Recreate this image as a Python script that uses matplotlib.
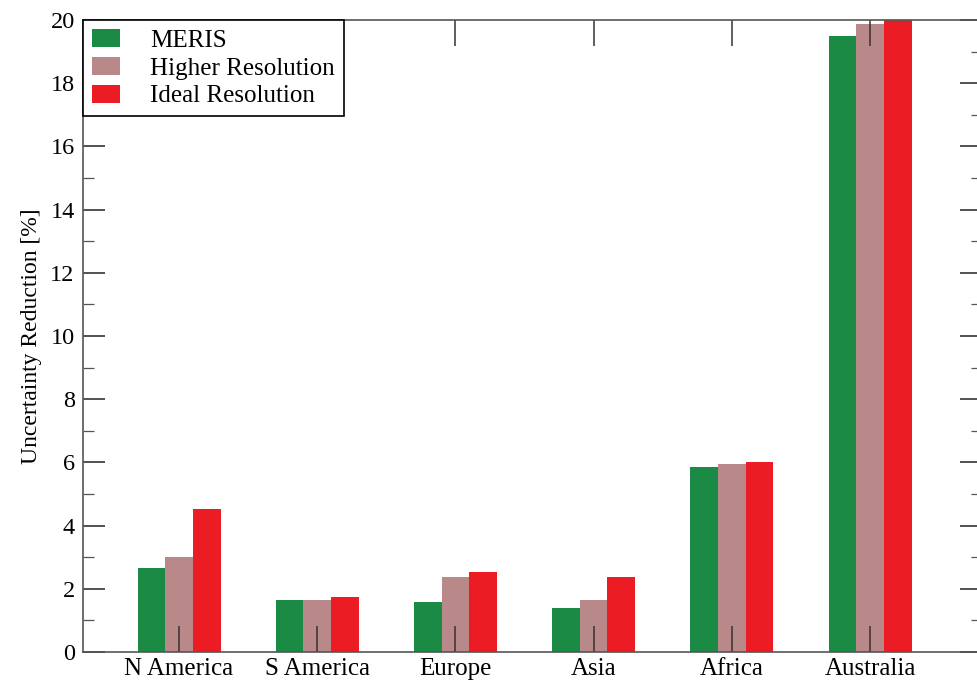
import matplotlib
matplotlib.use("Agg")
import matplotlib.pyplot as plt
import numpy as np
from matplotlib.ticker import MultipleLocator

categories = ["N America", "S America", "Europe", "Asia", "Africa", "Australia"]
meris = [2.65, 1.65, 1.59, 1.40, 5.85, 19.49]
higher = [3.00, 1.65, 2.38, 1.65, 5.95, 19.87]
ideal = [4.52, 1.73, 2.52, 2.38, 6.00, 20.10]
series_names = ["MERIS", "Higher Resolution", "Ideal Resolution"]
colors = ["#1b8a45", "#b98888", "#ec1c24"]

plt.rcParams['font.family'] = ['Liberation Serif', 'DejaVu Serif']

fig = plt.figure(figsize=(9.78, 6.81), dpi=100)
W, H = 978, 681
left, right, top, bottom = 83, 982, 20, 652
ax = fig.add_axes([left / W, 1 - bottom / H, (right - left) / W, (bottom - top) / H])

x = np.arange(1, len(categories) + 1)
w = 0.2
for i, (vals, name, c) in enumerate(zip([meris, higher, ideal], series_names, colors)):
    ax.bar(x + (i - 1) * w, vals, width=w, color=c, label=name, zorder=1)

ax.set_xlim(0.305, 6.81)
ax.set_ylim(0, 20)
ax.set_xticks(x)
ax.set_xticklabels(categories, fontsize=18)
ax.yaxis.set_major_locator(MultipleLocator(2))
ax.yaxis.set_minor_locator(MultipleLocator(1))
ax.tick_params(axis='y', which='major', direction='in', length=16, width=1.2,
               color='#333333', left=True, right=True, labelsize=17.5, pad=6)
ax.tick_params(axis='y', which='minor', direction='in', length=8, width=0.9,
               color='#555555', left=True, right=True)
ax.tick_params(axis='x', which='major', direction='in', length=19, width=1.1,
               color='#333333', top=True, bottom=True, labelsize=18, pad=4)
for s in ax.spines.values():
    s.set_color('#555555')
    s.set_linewidth(1.2)
    s.set_zorder(4)
ax.set_axisbelow(False)

ax.set_ylabel("Uncertainty Reduction [%]", fontsize=17, labelpad=6)

leg = ax.legend(loc='upper left', fontsize=18, frameon=True, fancybox=False,
                edgecolor='black', borderaxespad=0, handlelength=1.15,
                handleheight=0.75, borderpad=0.35, labelspacing=0.2,
                handletextpad=1.2, framealpha=1)
leg.get_frame().set_linewidth(1.2)
leg.set_zorder(10)

fig.savefig("out.png", dpi=100)
